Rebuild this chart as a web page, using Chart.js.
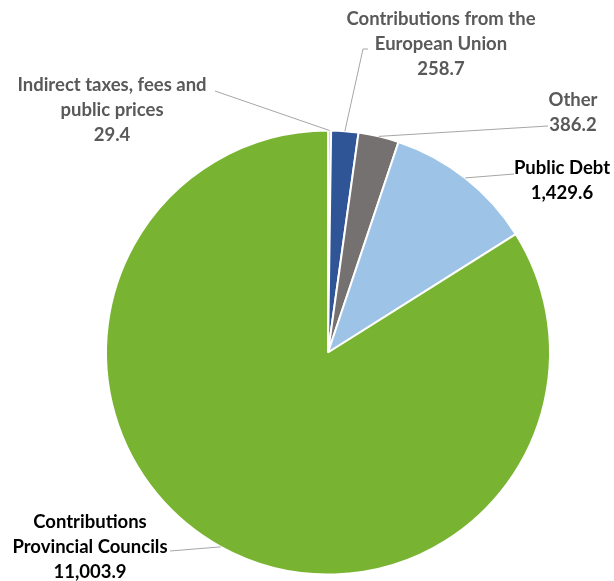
<!DOCTYPE html>
<html>
<head>
<meta charset="utf-8">
<script src="https://cdn.jsdelivr.net/npm/chart.js@4"></script>
<style>
    html, body { margin: 0; padding: 0; background: #fff; }
    #revenueChart { display: block; }
</style>
</head>
<body>
<canvas id="revenueChart" width="614" height="581"></canvas>
<script>
    const categories = [
        "Indirect taxes, fees and public prices",
        "Contributions from the European Union",
        "Other",
        "Public Debt",
        "Contributions Provincial Councils",
    ];
    const amounts = [29.4, 258.7, 386.2, 1429.6, 11003.9];
    const valueLabels = ["29.4", "258.7", "386.2", "1,429.6", "11,003.9"];
    const labelLines = [
        ["Indirect taxes, fees and", "public prices"],
        ["Contributions from the", "European Union"],
        ["Other"],
        ["Public Debt"],
        ["Contributions", "Provincial Councils"],
    ];
    const sliceColors = ["#f3e52a", "#2f5597", "#767171", "#9dc3e6", "#78b432"];

    // where each label block sits (center x, first line y) and where its leader line ends
    const labelLayout = [
        { x: 112, y: 85, lineTo: [215, 91], color: "#595959" },
        { x: 441, y: 19, lineTo: [363, 49], tick: 5, color: "#595959" },
        { x: 573, y: 100, lineTo: [548, 126], color: "#595959" },
        { x: 562, y: 168, lineTo: [514, 174], color: "#000000" },
        { x: 90, y: 522, lineTo: [170, 551], color: "#000000" },
    ];

    const pieLabels = {
        id: "pieLabels",
        afterDraw(chart) {
            const ctx = chart.ctx;
            const arcs = chart.getDatasetMeta(0).data;
            ctx.save();
            arcs.forEach((arc, i) => {
                const spot = labelLayout[i];
                const mid = (arc.startAngle + arc.endAngle) / 2;
                const sx = arc.x + Math.cos(mid) * arc.outerRadius;
                const sy = arc.y + Math.sin(mid) * arc.outerRadius;
                ctx.strokeStyle = "#a6a6a6";
                ctx.lineWidth = 1;
                ctx.beginPath();
                ctx.moveTo(sx, sy);
                ctx.lineTo(spot.lineTo[0], spot.lineTo[1]);
                if (spot.tick) ctx.lineTo(spot.lineTo[0] + spot.tick, spot.lineTo[1]);
                ctx.stroke();

                ctx.fillStyle = spot.color;
                ctx.font = "bold 18.5px Lato";
                ctx.textAlign = "center";
                ctx.textBaseline = "middle";
                const lines = labelLines[i].concat(valueLabels[i]);
                lines.forEach((text, k) => ctx.fillText(text, spot.x, spot.y + k * 25));
            });
            ctx.restore();
        },
    };

    new Chart(document.getElementById("revenueChart"), {
        type: "pie",
        data: {
            labels: categories,
            datasets: [{
                data: amounts,
                backgroundColor: sliceColors,
                borderColor: "#ffffff",
                borderWidth: 2,
            }],
        },
        options: {
            responsive: false,
            animation: false,
            layout: { padding: { top: 129, bottom: 5, left: 105, right: 63 } },
            plugins: {
                legend: { display: false },
                tooltip: { enabled: false },
            },
        },
        plugins: [pieLabels],
    });
</script>
</body>
</html>
